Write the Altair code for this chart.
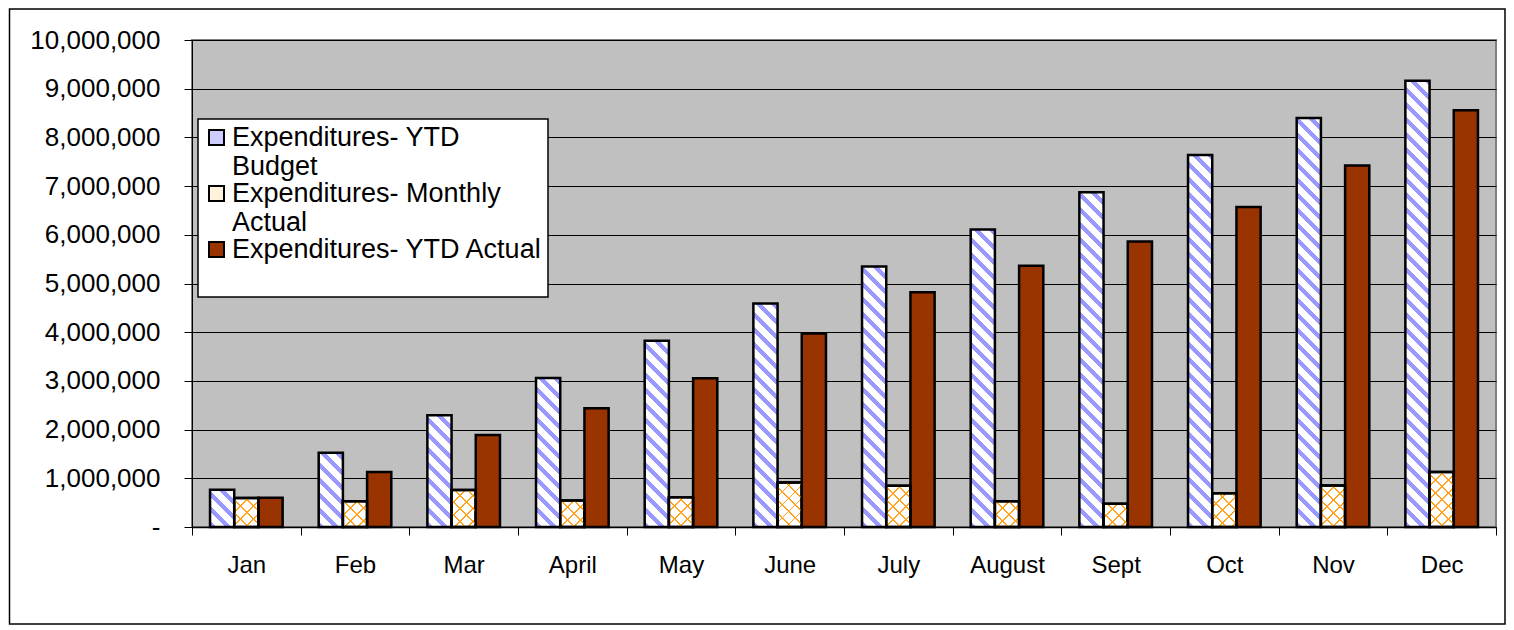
import json
import altair as alt

# ---------------- data ----------------
MONTHS = ["Jan", "Feb", "Mar", "April", "May", "June", "July",
          "August", "Sept", "Oct", "Nov", "Dec"]
SERIES = ["Expenditures-  YTD Budget", "Expenditures- Monthly Actual",
          "Expenditures- YTD Actual"]
LEGEND_LINES = [["Expenditures-  YTD", "Budget"],
                ["Expenditures- Monthly", "Actual"],
                ["Expenditures- YTD Actual", ""]]
YTD_BUDGET = [765000, 1525000, 2295000, 3060000, 3825000, 4590000,
              5350000, 6110000, 6875000, 7640000, 8400000, 9165000]
MONTHLY_ACTUAL = [595000, 530000, 760000, 545000, 610000, 915000,
                  845000, 530000, 475000, 695000, 850000, 1130000]
YTD_ACTUAL = [600000, 1130000, 1890000, 2440000, 3055000, 3975000,
              4820000, 5365000, 5860000, 6570000, 7425000, 8560000]
Y_TICKS = [0, 1000000, 2000000, 3000000, 4000000, 5000000,
           6000000, 7000000, 8000000, 9000000, 10000000]

# ---------------- layout / style ----------------
W, H = 1304, 487
Y_MAX = Y_TICKS[-1]
OFFSET_PAD = 0.745
BAR_W = (W / len(MONTHS)) / (len(SERIES) + 2 * OFFSET_PAD)
FONT = "Liberation Sans"
LEGEND_COLORS = ["#CCCCFF", "#FFF3DE", "#993300"]


def stripes(w, h, period, frac, bg, fg, down):
    """Linear gradient (bounding-box units) that draws 45 degree stripes."""
    L = w + h
    k = L / (w * w + h * h)
    if down:
        x1, y1, x2, y2 = 0.0, 1.0, w * k, 1.0 - h * k
    else:
        x1, y1, x2, y2 = 0.0, 0.0, w * k, h * k
    stops = []
    s = 0.0
    while s < L:
        a = round(s / L, 5)
        b = round(min((s + frac * period) / L, 1.0), 5)
        c = round(min((s + period) / L, 1.0), 5)
        stops += [{"offset": a, "color": fg}, {"offset": b, "color": fg},
                  {"offset": b, "color": bg}, {"offset": c, "color": bg}]
        s += period
    return {"gradient": "linear", "x1": x1, "y1": y1, "x2": x2, "y2": y2,
            "stops": stops}


rows = []
for i, m in enumerate(MONTHS):
    for s, vals in zip(SERIES, [YTD_BUDGET, MONTHLY_ACTUAL, YTD_ACTUAL]):
        v = vals[i]
        h = max(v / Y_MAX * H, 1.0)
        if s == SERIES[0]:
            p1 = stripes(BAR_W, h, 15, 0.42, "#FFFFFF", "#9999FF", True)
            p2 = "rgba(0,0,0,0)"
        elif s == SERIES[1]:
            p1 = stripes(BAR_W, h, 13, 0.15, "#FFFFFF", "#FFA320", False)
            p2 = stripes(BAR_W, h, 13, 0.15, "rgba(255,255,255,0)", "#FFA320", True)
        else:
            p1 = "#993300"
            p2 = "rgba(0,0,0,0)"
        rows.append({"Month": m, "Series": s, "Value": v, "pat": p1, "pat2": p2})

legend_expr = " : ".join(
    f"datum.label == {json.dumps(s)} ? {json.dumps(lines)}"
    for s, lines in zip(SERIES, LEGEND_LINES)) + " : datum.label"

data = alt.Data(values=rows)

base = alt.Chart(data).encode(
    x=alt.X("Month:N", sort=MONTHS,
            scale=alt.Scale(paddingInner=0, paddingOuter=0),
            axis=alt.Axis(title=None, labelAngle=0, labelFontSize=24,
                          labelFont=FONT, labelColor="black",
                          tickBand="extent", tickSize=8, tickColor="black",
                          tickWidth=1, domainColor="black", domainWidth=1.5,
                          labelPadding=18, grid=False)),
    xOffset=alt.XOffset("Series:N", sort=SERIES,
                        scale=alt.Scale(paddingInner=0, paddingOuter=OFFSET_PAD)),
    y=alt.Y("Value:Q", stack=None,
            scale=alt.Scale(domain=[0, Y_MAX], nice=False),
            axis=alt.Axis(title=None, values=Y_TICKS,
                          labelExpr="datum.value == 0 ? '-' : format(datum.value, ',')",
                          labelFontSize=26, labelFont=FONT, labelColor="black",
                          tickSize=8, tickColor="black", tickWidth=1,
                          domainColor="black", domainWidth=1,
                          labelPadding=24, grid=True, gridColor="black",
                          gridWidth=1, gridOpacity=1)),
)

legend_layer = base.mark_bar(strokeWidth=0).encode(
    fill=alt.Fill("Series:N", sort=SERIES,
                  scale=alt.Scale(domain=SERIES, range=LEGEND_COLORS),
                  legend=alt.Legend(title=None, orient="none", legendX=6,
                                    legendY=79, fillColor="white",
                                    strokeColor="black", padding=5,
                                    rowPadding=-4, symbolType="square",
                                    symbolSize=225, symbolStrokeColor="black",
                                    symbolStrokeWidth=2, symbolOpacity=1,
                                    labelFont=FONT, labelFontSize=27,
                                    labelColor="black", labelLimit=600,
                                    labelOffset=2, labelExpr=legend_expr)))

pattern_layer = base.mark_bar(stroke="black", strokeWidth=2.5).encode(
    fill=alt.Fill("pat:N", scale=None))

cross_layer = base.transform_filter(
    alt.datum.Series == SERIES[1]
).mark_bar(stroke="black", strokeWidth=2.5).encode(
    fill=alt.Fill("pat2:N", scale=None))

frame = alt.Chart(alt.Data(values=[{"frame": 1}])).mark_rect(
    fill="white", fillOpacity=0, stroke="black", strokeWidth=1.5, clip=False
).encode(x=alt.value(-182.5), x2=alt.value(W + 9),
         y=alt.value(-31), y2=alt.value(H + 97))

chart = alt.layer(frame, legend_layer, pattern_layer, cross_layer).properties(
    width=W, height=H,
    padding={"left": 184, "top": 32, "right": 10, "bottom": 98},
    autosize=alt.AutoSizeParams(type="none"),
    background="white",
).configure_view(
    fill="#C0C0C0", stroke="#808080", strokeWidth=2
).configure_legend(strokeWidth=1.5)

chart.save("out.html", embed_options={"renderer": "svg", "actions": False})
